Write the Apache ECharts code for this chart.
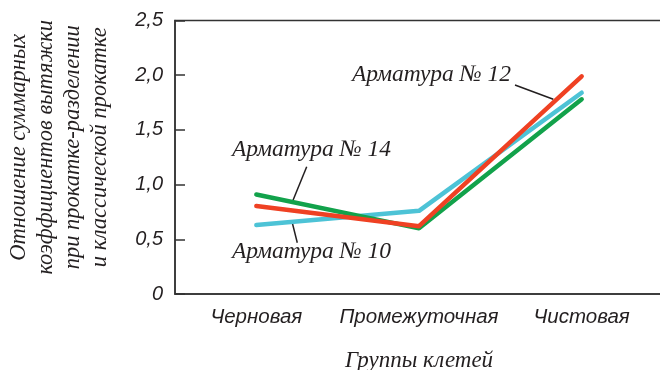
<!DOCTYPE html>
<html><head><meta charset="utf-8">
<script src="https://cdn.jsdelivr.net/npm/echarts@6/dist/echarts.min.js"></script>
<style>html,body{margin:0;padding:0;background:#fff}#c{width:660px;height:370px}</style>
</head><body><div id="c"></div>
<script>
var categories = ['Черновая', 'Промежуточная', 'Чистовая'];
var armatura14 = [0.91, 0.60, 1.78];
var armatura12 = [0.805, 0.62, 1.99];
var armatura10 = [0.63, 0.76, 1.84];
var yTicks = [0, 0.5, 1.0, 1.5, 2.0, 2.5];
var yTitle = 'Отношение суммарных\nкоэффициентов вытяжки\nпри прокатке-разделении\nи классической прокатке';
var xTitle = 'Группы клетей';

var chart = echarts.init(document.getElementById('c'), null, {renderer: 'canvas'});
var serifIt = {fontFamily: 'Liberation Serif', fontStyle: 'italic', color: '#231f20'};
function fmt(v){ return v === 0 ? '0' : v.toFixed(1).replace('.', ','); }
function line(name, data, color, z){
  return {name: name, type: 'line', data: data, symbol: 'none', z: z,
    lineStyle: {color: color, width: 4.5, cap: 'round', join: 'round'}, animation: false};
}
var annStyle = {fontSize: 23.5, fill: '#231f20', fontFamily: 'Liberation Serif', fontStyle: 'italic'};
chart.setOption({
  animation: false,
  grid: {left: 175, right: -3, top: 20.5, bottom: 76, containLabel: false, outerBoundsMode: 'none',
    show: true, borderColor: '#333', borderWidth: 1.5, backgroundColor: 'transparent'},
  xAxis: {
    type: 'category', data: categories, boundaryGap: true,
    axisLine: {lineStyle: {color: '#333', width: 1.5}},
    axisTick: {inside: true, alignWithLabel: true, length: 10, lineStyle: {color: '#333', width: 1.5}},
    axisLabel: {interval: 0, hideOverlap: false, margin: 13, fontFamily: 'Liberation Sans', fontStyle: 'italic', fontSize: 20.5, color: '#231f20'},
    name: xTitle, nameLocation: 'middle', nameGap: 55,
    nameTextStyle: Object.assign({fontSize: 23}, serifIt)
  },
  yAxis: {
    type: 'value', min: 0, max: 2.5, interval: 0.5,
    splitLine: {show: false},
    axisLine: {show: true, lineStyle: {color: '#333', width: 1.5}},
    axisTick: {show: true, inside: true, length: 10, lineStyle: {color: '#333', width: 1.5}},
    axisLabel: {margin: 12, formatter: fmt, fontFamily: 'Liberation Sans', fontStyle: 'italic', fontSize: 20, color: '#231f20'},
    name: yTitle, nameLocation: 'middle', nameGap: 61, nameRotate: 90,
    nameTextStyle: Object.assign({fontSize: 22.5, lineHeight: 27, align: 'center', padding: [0, 0, 0, 20]}, serifIt)
  },
  series: [
    line('Арматура № 10', armatura10, '#4dc3d6', 2),
    line('Арматура № 14', armatura14, '#12a24b', 3),
    line('Арматура № 12', armatura12, '#ef4123', 4)
  ],
  graphic: [
    {type: 'text', left: 232, top: 138, style: Object.assign({text: 'Арматура № 14'}, annStyle)},
    {type: 'text', left: 352, top: 63, style: Object.assign({text: 'Арматура № 12'}, annStyle)},
    {type: 'text', left: 232, top: 240, style: Object.assign({text: 'Арматура № 10'}, annStyle)},
    {type: 'line', shape: {x1: 306.7, y1: 166.7, x2: 292.7, y2: 201}, style: {stroke: '#231f20', lineWidth: 1.5}},
    {type: 'line', shape: {x1: 292.3, y1: 222.7, x2: 297.3, y2: 242.7}, style: {stroke: '#231f20', lineWidth: 1.5}},
    {type: 'line', shape: {x1: 515, y1: 85, x2: 553.3, y2: 99.3}, style: {stroke: '#231f20', lineWidth: 1.5}}
  ]
});
</script></body></html>
